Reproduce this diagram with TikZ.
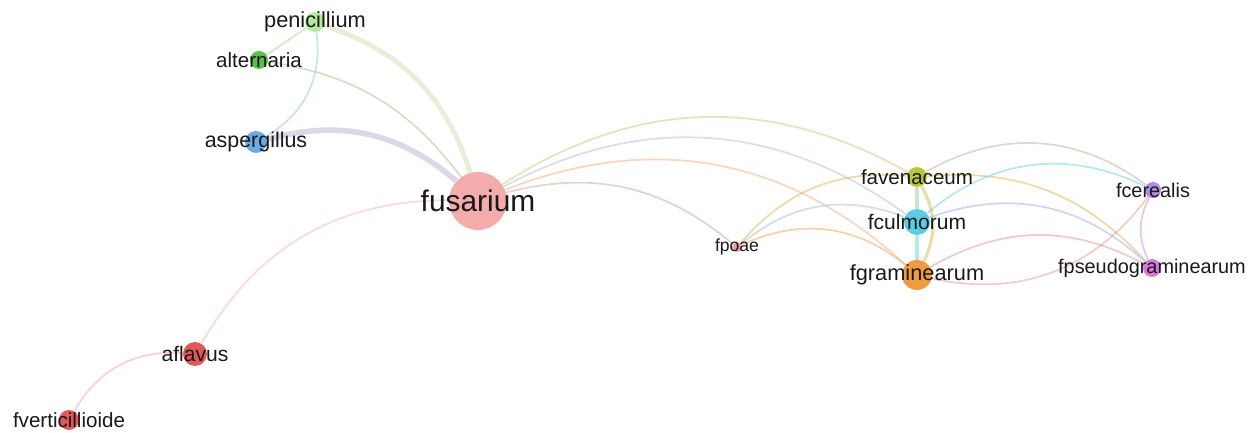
\documentclass[tikz,border=0pt]{standalone}
\usepackage{fontspec}
\setmainfont{Liberation Sans}
\usepackage{xcolor}
\usetikzlibrary{backgrounds}

\definecolor{cfus}{HTML}{F3ABAB}
\definecolor{cpen}{HTML}{B4EBA0}
\definecolor{calt}{HTML}{5CBF4C}
\definecolor{casp}{HTML}{6AAAE6}
\definecolor{cafl}{HTML}{E25858}
\definecolor{cfav}{HTML}{B8C83A}
\definecolor{cfcul}{HTML}{5ACDE0}
\definecolor{cfgram}{HTML}{F09A42}
\definecolor{cfpoae}{HTML}{E8A2A2}
\definecolor{cfcer}{HTML}{B48AE8}
\definecolor{cfpse}{HTML}{D878D8}

\begin{document}
\begin{tikzpicture}[x=0.02cm, y=0.02cm,
    dot/.style={circle, inner sep=0pt, minimum size=#1},
    lbl/.style={inner sep=0pt, text=black!90, font=\fontsize{#1}{#1}\selectfont},
    link/.style={line width=1pt, opacity=0.45}]
  \useasboundingbox (0,0) rectangle (1259,433);

  \node[dot=11.6mm, fill=cfus] (fus) at (478,232) {};
  \node[dot=4mm, fill=cpen] (pen) at (315,411) {};
  \node[dot=3.6mm, fill=calt] (alt) at (259,373) {};
  \node[dot=4.4mm, fill=casp] (asp) at (256,291) {};
  \node[dot=4.8mm, fill=cafl] (afl) at (195,79) {};
  \node[dot=4mm, fill=cafl] (fver) at (69,13) {};
  \node[dot=4mm, fill=cfav] (fav) at (917,256) {};
  \node[dot=5.2mm, fill=cfcul] (fcul) at (917,211) {};
  \node[dot=6mm, fill=cfgram] (fgram) at (917,158) {};
  \node[dot=2mm, fill=cfpoae] (fpoae) at (737,186) {};
  \node[dot=3.2mm, fill=cfcer] (fcer) at (1153,243) {};
  \node[dot=3.6mm, fill=cfpse] (fpse) at (1152,165) {};

  \begin{scope}[on background layer]
    \draw[link, line width=2.8pt, opacity=0.4, cpen!60!cfus] (fus) to[bend right=27] (pen);
    \draw[link, calt!45!cfus] (fus) to[bend right=22] (alt);
    \draw[link, line width=3.2pt, casp!50!cfus] (fus) to[bend right=28] (asp);
    \draw[link, cfus] (fus) to[bend right=30] (afl);
    \draw[link, cafl!60] (afl) to[bend right=32] (fver);
    \draw[link, cpen!60!calt] (pen) -- (alt);
    \draw[link, cpen!40!casp] (pen) to[bend left=34] (asp);

    \draw[link, cfav!50!cfus] (fus) to[bend left=31] (fav);
    \draw[link, cfcul!50!cfus] (fus) to[bend left=32] (fcul);
    \draw[link, cfgram!50!cfus] (fus) to[bend left=32] (fgram);
    \draw[link, cfpoae!70!gray] (fus) to[bend left=27] (fpoae);

    \draw[link, cfav!40!cfgram] (fpoae) to[bend left=27] (fav);
    \draw[link, cfcul!50!cfpoae] (fpoae) to[bend left=30] (fcul);
    \draw[link, cfgram] (fpoae) to[bend left=32] (fgram);

    \draw[link, line width=1.8pt, cfav!50!cfcul] (fav) -- (fcul);
    \draw[link, line width=1.8pt, cfcul] (fcul) -- (fgram);
    \draw[link, line width=1.8pt, cfav!60!cfgram] (fav) to[bend left=27] (fgram);

    \draw[link, cfav!50!cfcer] (fav) to[bend left=33] (fcer);
    \draw[link, cfav!30!cfgram] (fav) to[bend left=26] (fpse);
    \draw[link, cfcul] (fcul) to[bend left=33] (fcer);
    \draw[link, cfcul!40!cfcer] (fcul) to[bend left=31] (fpse);
    \draw[link, cfgram!50!cfpse] (fgram) to[bend left=29] (fpse);
    \draw[link, cfgram!60!cfcer] (fgram) to[bend right=33] (fcer);
    \draw[link, cfcer!50!cfpse] (fcer) to[bend right=26] (fpse);
  \end{scope}

  \node[lbl=17] (fus-t) at (fus) {fusarium};
  \node[lbl=12.4] (pen-t) at (pen) {penicillium};
  \node[lbl=11.7] (alt-t) at (alt) {alternaria};
  \node[lbl=12.2] (asp-t) at (asp) {aspergillus};
  \node[lbl=12] (afl-t) at (afl) {aflavus};
  \node[lbl=11.7] (fver-t) at (fver) {fverticillioide};
  \node[lbl=11.7] (fav-t) at (fav) {favenaceum};
  \node[lbl=12] (fcul-t) at (fcul) {fculmorum};
  \node[lbl=12.4] (fgram-t) at (fgram) {fgraminearum};
  \node[lbl=10] (fpoae-t) at (fpoae) {fpoae};
  \node[lbl=11.3] (fcer-t) at (fcer) {fcerealis};
  \node[lbl=11.3] (fpse-t) at (fpse) {fpseudograminearum};
\end{tikzpicture}
\end{document}
